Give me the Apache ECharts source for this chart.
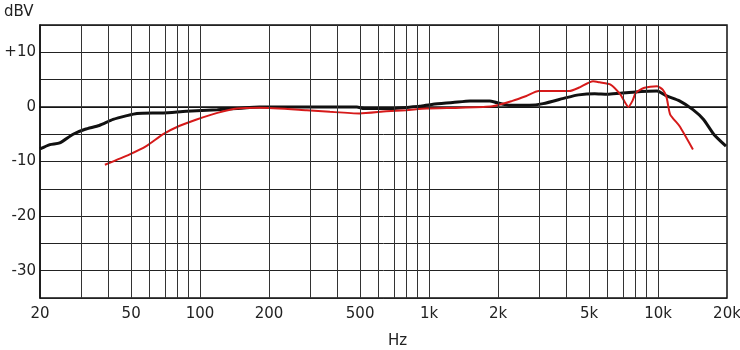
<!DOCTYPE html>
<html>
<head>
<meta charset="utf-8">
<script src="https://cdn.jsdelivr.net/npm/echarts@6/dist/echarts.min.js"></script>
<style>html,body{margin:0;padding:0;background:#fff}#c{width:740px;height:350px}</style>
</head>
<body>
<div id="c"></div>
<script>
// Frequencies (Hz) and levels (dBV)
const blackFreq = [20, 22.1, 24.4, 27.9, 31.5, 36.3, 41.7, 47.9, 53, 69, 87, 119, 145, 182, 300, 484, 520, 695, 800, 910, 1040, 1270, 1510, 1840, 1970, 2260, 2740, 3150, 3980, 4500, 5290, 6000, 6800, 7750, 9900, 10900, 12400, 14200, 15800, 17500, 19800];
const blackDb   = [-7.7, -6.9, -6.6, -5.0, -4.1, -3.4, -2.3, -1.6, -1.2, -1.1, -0.8, -0.5, -0.3, 0, 0, 0, -0.3, -0.3, -0.1, 0.1, 0.5, 0.8, 1.1, 1.1, 0.8, 0.3, 0.3, 0.6, 1.7, 2.2, 2.4, 2.3, 2.5, 2.7, 2.9, 2.0, 1.1, -0.5, -2.3, -5.0, -7.2];
const redFreq = [38.4, 49.3, 58.2, 69, 81, 96.6, 119, 145, 182, 292, 369, 497, 650, 794, 975, 1370, 1890, 2310, 2660, 3010, 4100, 4500, 5200, 5560, 6200, 6840, 7420, 7730, 8000, 8720, 9900, 10500, 10900, 11300, 12400, 14200];
const redDb   = [-10.6, -8.7, -7.2, -5.0, -3.5, -2.3, -1.1, -0.3, -0.15, -0.6, -0.9, -1.2, -0.8, -0.6, -0.3, -0.15, 0.1, 1.1, 2.0, 2.9, 2.9, 3.5, 4.7, 4.5, 4.1, 2.3, 0, 1.1, 2.6, 3.5, 3.8, 3.1, 1.7, -1.4, -3.5, -7.8];
const xTickLabels = [20, 50, 100, 200, 500, 1000, 2000, 5000, 10000, 20000];
const xGridFreqs = [30, 40, 50, 60, 70, 80, 90, 100, 200, 300, 400, 500, 600, 700, 800, 900, 1000, 2000, 3000, 4000, 5000, 6000, 7000, 8000, 9000, 10000];

const lg = v => Math.log10(v);
const pair = (fs, ds) => fs.map((f, i) => [lg(f), ds[i]]);
const fmtHz = v => {
  const f = Math.round(Math.pow(10, v));
  return f >= 1000 ? (f / 1000) + 'k' : String(f);
};
const FONT = 'DejaVu Sans';

const chart = echarts.init(document.getElementById('c'), null, {renderer: 'canvas'});
chart.setOption({
  animation: false,
  backgroundColor: '#fff',
  title: [
    {text: 'dBV', left: -1, top: 0, textStyle: {fontFamily: FONT, fontSize: 15, fontWeight: 'normal', color: '#222'}},
    {text: 'Hz', left: 383, top: 329, textStyle: {fontFamily: FONT, fontSize: 15, fontWeight: 'normal', color: '#222'}}
  ],
  grid: {left: 40, right: 13, top: 25, bottom: 52, outerBoundsMode: 'none', containLabel: false, show: true, borderColor: '#111', borderWidth: 1.5, backgroundColor: 'transparent'},
  xAxis: {
    type: 'value', min: lg(20), max: lg(20000),
    axisLine: {show: true, lineStyle: {color: '#111', width: 1.5}},
    axisTick: {show: false},
    splitLine: {show: false},
    axisLabel: {customValues: xTickLabels.map(lg), formatter: fmtHz, fontFamily: FONT, fontSize: 15, color: '#222', margin: 9}
  },
  yAxis: {
    type: 'value', min: -35, max: 15, interval: 5,
    axisLine: {show: true, lineStyle: {color: '#111', width: 1.5}},
    axisTick: {show: false},
    splitLine: {show: true, lineStyle: {color: '#222', width: 1}},
    axisLabel: {
      fontFamily: FONT, fontSize: 15, color: '#222', margin: 4,
      formatter: v => (v % 10 !== 0) ? '' : (v > 0 ? '+' + v : String(v))
    }
  },
  series: [
    {
      type: 'line', data: [], silent: true, z: 1,
      markLine: {
        silent: true, symbol: 'none', animation: false,
        label: {show: false},
        lineStyle: {color: '#333', width: 1, type: 'solid'},
        data: xGridFreqs.map(f => ({xAxis: lg(f)}))
      }
    },
    {
      type: 'line', data: pair(blackFreq, blackDb), showSymbol: false, smooth: 0.2, z: 3,
      lineStyle: {color: '#111', width: 3}
    },
    {
      type: 'line', data: pair(redFreq, redDb), showSymbol: false, smooth: 0.2, z: 4,
      lineStyle: {color: '#d61a1a', width: 2}
    }
  ]
});
</script>
</body>
</html>
